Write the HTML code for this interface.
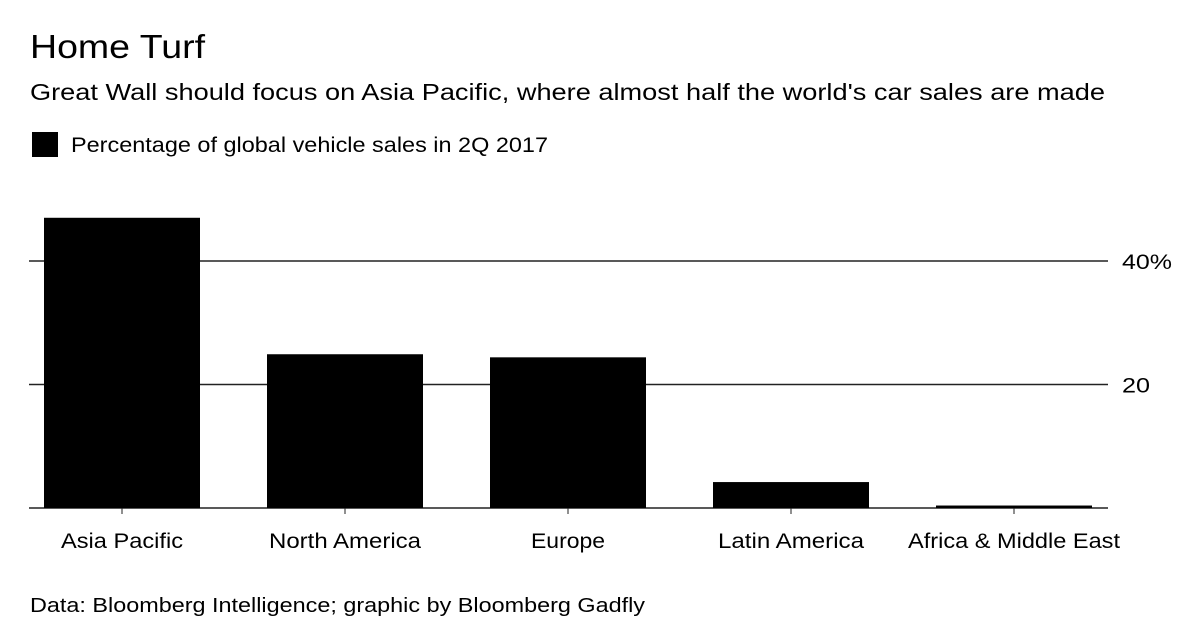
<!DOCTYPE html>
<html><head><meta charset="utf-8"><style>
body{margin:0;background:#fff;width:1200px;height:637px;overflow:hidden;font-family:"Liberation Sans",Arial,sans-serif;color:#000}
</style></head><body>
<svg width="1200" height="637">
<text x="30" y="58" font-size="33" textLength="175" lengthAdjust="spacingAndGlyphs">Home Turf</text>
<text x="30" y="100" font-size="23" textLength="1075" lengthAdjust="spacingAndGlyphs">Great Wall should focus on Asia Pacific, where almost half the world's car sales are made</text>
<rect x="32" y="132" width="26" height="25" fill="#000"/>
<text x="71" y="152" font-size="21" textLength="477" lengthAdjust="spacingAndGlyphs">Percentage of global vehicle sales in 2Q 2017</text>
<g id="grid"></g><g id="bars"></g><g id="xlabels"></g>
<text x="30" y="612" font-size="20" textLength="615" lengthAdjust="spacingAndGlyphs">Data: Bloomberg Intelligence; graphic by Bloomberg Gadfly</text>
</svg>
<script>
const categories=["Asia Pacific","North America","Europe","Latin America","Africa & Middle East"];
const values=[47.0,24.9,24.4,4.2,0.4];
const yTicks=[0,20,40];
const yTickLabels=["","20","40%"];
const labelW=[122,152,74,146,212];
const yLabelW=[0,28,50];
const X0=29,X1=1108,Y0=508,PX=6.175,pad=15,step=223,bw=156;
const ns="http://www.w3.org/2000/svg";
const y=v=>Y0-v*PX;
const x=i=>X0+pad+i*step;
const grid=document.getElementById('grid'),bars=document.getElementById('bars'),xl=document.getElementById('xlabels');
yTicks.forEach((t,i)=>{
 const l=document.createElementNS(ns,'line');
 l.setAttribute('x1',X0);l.setAttribute('x2',X1);l.setAttribute('y1',y(t));l.setAttribute('y2',y(t));
 l.setAttribute('stroke','#222');l.setAttribute('stroke-width','1.5');
 
 
 grid.appendChild(l);
 if(yTickLabels[i]){const tx=document.createElementNS(ns,'text');
 tx.setAttribute('x',1122);tx.setAttribute('y',y(t)+8);tx.setAttribute('font-size','21');tx.textContent=yTickLabels[i];
 tx.setAttribute('textLength',yLabelW[i]);tx.setAttribute('lengthAdjust','spacingAndGlyphs');
 
 
 grid.appendChild(tx);}
});
values.forEach((v,i)=>{
 const r=document.createElementNS(ns,'rect');
 r.setAttribute('x',x(i));r.setAttribute('width',bw);r.setAttribute('y',y(v));r.setAttribute('height',Math.max(v*PX,1.5));r.setAttribute('fill','#000');
 
 
 bars.appendChild(r);
 const cx=x(i)+bw/2;
 const tk=document.createElementNS(ns,'line');
 tk.setAttribute('x1',cx);tk.setAttribute('x2',cx);tk.setAttribute('y1',Y0);tk.setAttribute('y2',Y0+6);tk.setAttribute('stroke','#222');
 
 
 xl.appendChild(tk);
 const t=document.createElementNS(ns,'text');
 t.setAttribute('x',cx-labelW[i]/2);t.setAttribute('y',548);t.setAttribute('font-size','21');t.textContent=categories[i];
 t.setAttribute('textLength',labelW[i]);t.setAttribute('lengthAdjust','spacingAndGlyphs');
 
 
 xl.appendChild(t);
});
</script>
</body></html>
